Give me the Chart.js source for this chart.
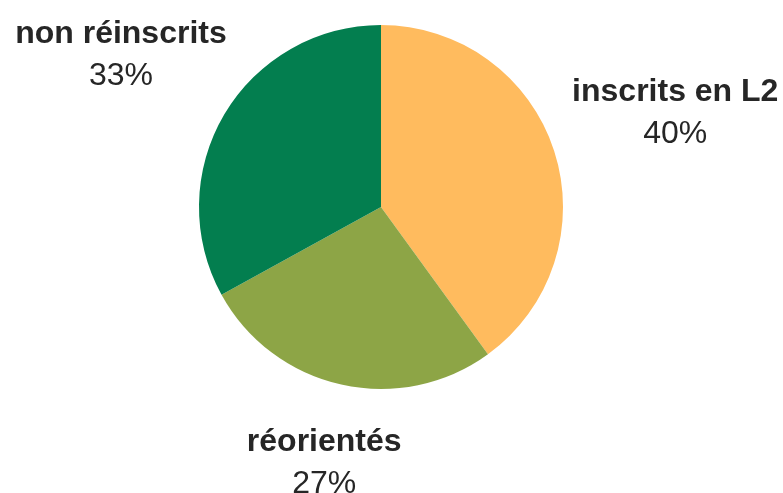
<!DOCTYPE html>
<html>
<head>
<meta charset="utf-8">
<script src="https://cdn.jsdelivr.net/npm/chart.js@4"></script>
<style>
  html, body { margin: 0; padding: 0; background: #ffffff; }
  #wrap { width: 783px; height: 493px; position: relative; }
</style>
</head>
<body>
<div id="wrap"><canvas id="c" width="783" height="493"></canvas></div>
<script>
const categories = ["inscrits en L2", "réorientés", "non réinscrits"];
const values = [40, 27, 33];
const percentLabels = ["40%", "27%", "33%"];
const colors = ["#FFBB5E", "#8DA546", "#037E4F"];
const labelDistance = [1.70, 1.43, 1.66];

const outsideLabels = {
  id: 'outsideLabels',
  afterDatasetsDraw(chart) {
    const ctx = chart.ctx;
    const meta = chart.getDatasetMeta(0);
    ctx.save();
    ctx.textAlign = 'center';
    ctx.textBaseline = 'middle';
    ctx.fillStyle = '#262626';
    meta.data.forEach((arc, i) => {
      const p = arc.getProps(['x', 'y', 'startAngle', 'endAngle', 'outerRadius'], true);
      const mid = (p.startAngle + p.endAngle) / 2;
      const r = p.outerRadius * labelDistance[i];
      const lx = p.x + Math.cos(mid) * r;
      const ly = p.y + Math.sin(mid) * r;
      ctx.font = 'bold 32px "Liberation Sans", Arial, sans-serif';
      ctx.fillText(categories[i], lx, ly - 19);
      ctx.font = '32px "Liberation Sans", Arial, sans-serif';
      ctx.fillText(percentLabels[i], lx, ly + 23);
    });
    ctx.restore();
  }
};

new Chart(document.getElementById('c'), {
  type: 'pie',
  data: {
    labels: categories,
    datasets: [{
      data: values,
      backgroundColor: colors,
      borderWidth: 0
    }]
  },
  options: {
    responsive: false,
    animation: false,
    devicePixelRatio: 1,
    layout: { padding: { top: 25, bottom: 104, left: 0, right: 21 } },
    plugins: {
      legend: { display: false },
      tooltip: { enabled: false }
    }
  },
  plugins: [outsideLabels]
});
</script>
</body>
</html>
